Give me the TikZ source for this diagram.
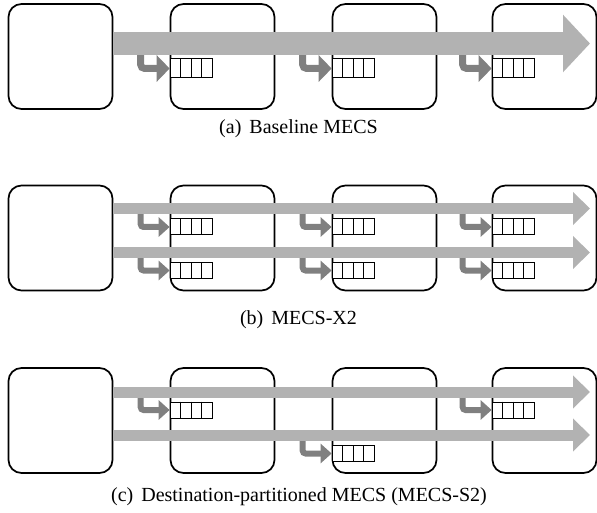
\documentclass[tikz,border=0pt]{standalone}
\usepackage{fontspec}
\setmainfont{Liberation Serif}
\usetikzlibrary{calc, arrows.meta, positioning}

\tikzset{
  router/.style={draw, line width=1.7pt, rounded corners=13pt, minimum width=104pt, minimum height=105pt, inner sep=0pt},
  fifo/.style={draw, line width=1pt, fill=white, anchor=west, inner sep=0pt, minimum width=42pt, minimum height=#1},
  fifo/.default=16pt,
  flowA/.style={line width=23pt, draw=gray!60, -{Triangle[width=56pt,length=27pt]}},
  flowB/.style={line width=11pt, draw=gray!60, -{Triangle[width=32pt,length=17pt]}},
  enqA/.style={line width=7pt, draw=gray, rounded corners=4pt, -{Triangle[width=26pt,length=13pt]}},
  enqB/.style={line width=6pt, draw=gray, rounded corners=3pt, -{Triangle[width=19pt,length=11pt]}},
  caption/.style={font=\fontsize{20}{24}\selectfont}
}

\begin{document}
\begin{tikzpicture}[x=1pt, y=-1pt]
  \useasboundingbox (0,0) rectangle (597,513);
  % Routers
  \foreach \n/\x in {1/60.5, 2/222.5, 3/384.5, 4/544.5} {
    \node[router] (a\n) at (\x,56.5) {};
    \node[router] (b\n) at (\x,238) {};
    \node[router] (c\n) at (\x,420.5) {};
  }
  % Flow tips
  \coordinate (ta) at (590,43.5);
  \coordinate (tb1) at (590,208.5);
  \coordinate (tb2) at (590,252.5);
  \coordinate (tc1) at (590,392);
  \coordinate (tc2) at (590,435);
  % Queues
  \foreach \n in {2,3,4} {
    \node[fifo=19pt] (qa\n) at ([yshift=-12pt]a\n.west) {};
    \node[fifo] (qbt\n) at ([yshift=11pt]b\n.west) {};
    \node[fifo] (qbb\n) at ([yshift=-32.5pt]b\n.west) {};
  }
  \node[fifo] (qct2) at ([yshift=10.5pt]c2.west) {};
  \node[fifo] (qcb3) at ([yshift=-33pt]c3.west) {};
  \node[fifo] (qct4) at ([yshift=10.5pt]c4.west) {};
  \foreach \q in {qa2,qa3,qa4,qbt2,qbt3,qbt4,qbb2,qbb3,qbb4,qct2,qcb3,qct4}
    \foreach \i in {1,2,3}
      \draw[line width=1pt] ($(\q.north west)!\i/4!(\q.north east)$) -- ($(\q.south west)!\i/4!(\q.south east)$);
  % Enqueue arrows
  \foreach \n in {2,3,4} {
    \draw[enqA] ([xshift=-29pt]qa\n.west |- ta) |- (qa\n.west);
    \draw[enqB] ([xshift=-29pt]qbt\n.west |- tb1) |- (qbt\n.west);
    \draw[enqB] ([xshift=-29pt]qbb\n.west |- tb2) |- (qbb\n.west);
  }
  \draw[enqB] ([xshift=-29pt]qct2.west |- tc1) |- (qct2.west);
  \draw[enqB] ([xshift=-29pt]qcb3.west |- tc2) |- (qcb3.west);
  \draw[enqB] ([xshift=-29pt]qct4.west |- tc1) |- (qct4.west);
  % Flows
  \draw[flowA] (a1.east |- ta) -- (ta);
  \draw[flowB] (b1.east |- tb1) -- (tb1);
  \draw[flowB] (b1.east |- tb2) -- (tb2);
  \draw[flowB] (c1.east |- tc1) -- (tc1);
  \draw[flowB] (c1.east |- tc2) -- (tc2);
  % Captions
  \node[caption] (capa) at (298.5,129) {(a)\hspace{0.4em}Baseline MECS};
  \node[caption] (capb) at (298.5,320) {(b)\hspace{0.4em}MECS-X2};
  \node[caption] (capc) at (299,497) {(c)\hspace{0.4em}Destination-partitioned MECS (MECS-S2)};
\end{tikzpicture}
\end{document}
